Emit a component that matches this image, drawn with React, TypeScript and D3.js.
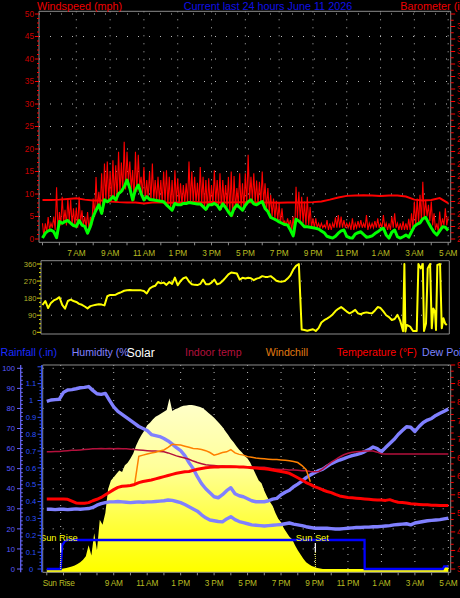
import React from "react";
import * as d3 from "d3";

const BASE_MS = new Date(2026, 5, 10, 0, 0, 0).getTime();
const at = (h: number): Date => new Date(BASE_MS + h * 3600000);
const fmtHour = d3.timeFormat("%-I %p");

const chartTitle = "Current last 24 hours June 11 2026";

// ---------- Top panel: wind (10-minute samples from 5:00 AM) ----------
const WIND_START_H = 5;
const WIND_STEP_H = 1 / 6;
const windAvg = [
  0.2, 1.3, 1.8, 2.0, 1.6, 0.3, 3.9, 3.5, 3.9, 4.1, 3.5, 3.0,
  2.8, 4.1, 3.1, 2.8, 1.3, 2.8, 5.0, 6.4, 7.6, 5.7, 8.7, 8.3,
  8.7, 9.4, 8.7, 10.1, 10.6, 11.6, 13.1, 11.3, 8.7, 10.9, 12.0, 10.1,
  8.7, 9.4, 8.8, 8.7, 8.6, 8.5, 8.4, 8.3, 7.6, 7.0, 6.4, 7.9,
  7.6, 7.6, 7.9, 7.9, 8.1, 8.0, 7.9, 7.8, 7.8, 7.2, 6.6, 7.6,
  7.6, 7.9, 7.5, 6.6, 7.8, 7.0, 6.0, 5.2, 6.8, 7.6, 7.0, 6.4,
  7.5, 8.3, 8.7, 7.8, 7.6, 8.0, 8.3, 6.8, 6.1, 4.8, 4.5, 4.2,
  3.8, 3.5, 3.2, 3.1, 2.0, 0.7, 4.4, 4.0, 3.4, 2.7, 2.7, 2.6,
  2.5, 2.4, 2.2, 1.8, 1.4, 0.6, 0.4, 0.2, 0.6, 1.3, 1.8, 2.0,
  0.6, 0.3, 0.2, 1.1, 1.4, 1.6, 1.0, 0.4, 0.5, 0.7, 1.2, 1.6,
  2.1, 2.4, 0.9, 0.2, 1.5, 2.0, 0.5, 0.2, 0.5, 0.9, 0.4, 1.6,
  2.8, 3.3, 3.6, 4.5, 4.8, 3.6, 2.5, 1.5, 0.9, 1.8, 2.7, 2.6, 1.9,
];
const windHigh = [
  3.5, 3.5, 4.9, 3.5, 5.0, 11.5, 6.0, 9.4, 6.5, 9.0, 8.7, 6.8,
  7.0, 9.4, 6.4, 5.0, 6.0, 4.9, 9.0, 13.8, 10.5, 14.6, 16.8, 17.2,
  15.0, 17.5, 16.4, 19.4, 17.0, 21.6, 19.4, 17.2, 15.3, 19.4, 18.7, 13.8,
  16.0, 13.1, 15.0, 16.8, 13.1, 13.8, 13.1, 15.0, 15.3, 13.8, 13.1, 15.3,
  13.5, 12.4, 12.0, 12.4, 17.2, 15.0, 13.8, 12.5, 16.0, 13.8, 13.1, 13.5,
  12.0, 15.3, 13.1, 14.6, 13.1, 12.0, 13.8, 15.0, 14.0, 11.3, 14.6, 12.4,
  14.6, 18.7, 13.8, 14.6, 13.0, 12.7, 15.0, 12.4, 11.3, 9.8, 9.0, 8.5,
  7.9, 6.8, 4.0, 4.6, 4.2, 5.0, 11.6, 10.5, 9.4, 8.3, 9.4, 7.1,
  4.6, 4.6, 3.5, 3.5, 3.1, 4.2, 3.5, 3.5, 4.8, 5.3, 5.0, 4.2,
  3.5, 3.5, 4.6, 3.5, 4.0, 4.2, 3.5, 5.3, 3.5, 3.5, 4.0, 4.6,
  3.5, 5.3, 3.5, 3.5, 5.0, 5.7, 3.5, 3.5, 3.9, 3.5, 4.5, 5.7,
  8.3, 9.0, 9.8, 12.7, 8.7, 7.6, 8.3, 5.7, 3.5, 6.1, 4.6, 6.8, 5.0,
];
const windLow = [
  0.5, 1.5, 2.0, 2.5, 2.0, 1.0, 3.0, 3.5, 3.0, 4.0, 3.0, 3.0,
  2.5, 3.5, 3.0, 2.5, 2.0, 3.0, 5.0, 6.5, 7.0, 6.0, 8.5, 8.0,
  8.5, 9.0, 8.5, 10.0, 10.5, 11.0, 12.5, 11.0, 8.5, 10.5, 11.5, 10.0,
  8.5, 9.0, 8.5, 8.5, 8.5, 8.5, 8.0, 8.0, 7.5, 7.0, 6.5, 8.0,
  7.5, 7.5, 8.0, 8.0, 8.0, 8.0, 8.0, 7.5, 8.0, 7.0, 6.5, 7.5,
  7.5, 8.0, 7.5, 6.5, 7.5, 7.0, 6.0, 5.0, 6.5, 7.5, 7.0, 6.5,
  7.5, 8.5, 8.5, 8.0, 7.5, 8.0, 8.0, 6.5, 6.0, 5.0, 4.5, 4.0,
  3.5, 3.5, 3.0, 3.0, 2.0, 1.0, 4.5, 4.0, 3.5, 3.0, 3.0, 2.5,
  2.5, 2.5, 2.5, 2.5, 2.5, 2.0, 2.0, 2.5, 2.5, 2.5, 2.5, 2.5,
  2.5, 2.0, 2.0, 2.5, 2.5, 2.5, 2.5, 2.0, 2.5, 2.5, 2.5, 2.5,
  2.5, 2.5, 2.0, 2.0, 2.5, 2.5, 2.0, 2.0, 2.0, 2.0, 2.0, 2.5,
  3.0, 3.5, 4.0, 4.5, 5.0, 4.0, 3.0, 2.0, 1.5, 2.5, 3.0, 3.0, 2.5,
];

// Barometer (inHg), 30-minute samples from 5:00 AM
const BARO_START_H = 5;
const BARO_STEP_H = 0.5;
const barometer = [
  29.725, 29.725, 29.726, 29.728, 29.730, 29.726, 29.723, 29.723, 29.720, 29.718,
  29.717, 29.717, 29.714, 29.717, 29.717, 29.716, 29.717, 29.717, 29.718, 29.717,
  29.718, 29.717, 29.717, 29.718, 29.718, 29.717, 29.717, 29.717, 29.716, 29.717,
  29.717, 29.717, 29.718, 29.720, 29.726, 29.733, 29.738, 29.739, 29.740, 29.739,
  29.738, 29.739, 29.739, 29.736, 29.726, 29.723, 29.725, 29.731, 29.715,
];
const baroTickValues = d3.range(0, 37).map((k) => 29.6 + k * 0.02);

// ---------- Middle panel: wind direction ----------
const DIR_START_H = 5;
const DIR_STEP_H = 1 / 6;
const windDir = [
  144, 165, 128, 155, 168, 175, 185, 145, 125, 165, 172, 165,
  160, 150, 145, 136, 126, 138, 142, 145, 148, 146, 142, 190,
  197, 196, 198, 206, 212, 219, 222, 223, 222, 222, 222, 221,
  218, 205, 230, 240, 245, 265, 258, 262, 250, 265, 255, 288,
  248, 270, 285, 290, 268, 253, 250, 249, 255, 278, 253, 253,
  262, 278, 253, 258, 272, 288, 305, 315, 313, 310, 278, 287,
  284, 287, 285, 275, 283, 287, 296, 292, 292, 296, 285, 272,
  268, 267, 270, 283, 300, 330, 350, 360, 15, 12, 8, 12,
  16, 7, 22, 52, 64, 72, 82, 94, 112, 124, 133, 122,
  109, 100, 108, 118, 100, 95, 102, 105, 102, 100, 115, 133,
  128, 110, 90, 80, 65, 70, 92, 60, 5,
];
const windDirLateHours = [
  26.41, 26.47, 26.55, 26.75, 26.92, 27.14, 27.24, 27.38, 27.5, 27.57, 27.69, 27.79,
  27.93, 28.03, 28.12, 28.22, 28.28, 28.36, 28.52, 28.62, 28.72, 28.82, 28.92,
];
const windDirLate = [
  360, 4, 39, 30, 7, 7, 360, 337, 360, 7, 47, 337,
  360, 21, 126, 109, 12, 355, 360, 21, 74, 47, 39,
];

// ---------- Bottom panel (15-minute samples from 5:00 AM) ----------
const BOT_START_H = 5;
const BOT_STEP_H = 0.25;
const humidity = [
  83.5, 84.2, 84.4, 84.6, 88.0, 89.2, 89.4, 89.8, 90.3, 90.5, 90.9, 89.0,
  87.3, 87.0, 87.5, 84.0, 80.8, 78.5, 77.0, 75.5, 74.0, 72.5, 71.0, 70.0,
  69.0, 67.0, 66.5, 66.0, 65.0, 63.8, 62.2, 60.5, 59.0, 56.5, 53.0, 50.0,
  46.0, 42.5, 40.0, 38.0, 36.0, 35.5, 37.0, 39.0, 40.5, 37.5, 36.5, 36.0,
  35.0, 34.0, 33.5, 33.5, 33.5, 34.0, 34.8, 35.2, 37.0, 38.2, 39.2, 41.0,
  42.3, 43.8, 45.5, 46.8, 48.0, 49.0, 49.8, 51.2, 52.5, 53.5, 54.3, 55.0,
  55.8, 56.5, 57.0, 57.6, 58.5, 59.5, 60.8, 60.0, 58.4, 60.5, 62.5, 64.5,
  67.0, 69.0, 70.9, 70.6, 68.5, 71.0, 73.0, 74.2, 75.0, 76.5, 77.6, 78.6,
  79.7,
];
const dewPoint = [
  51.1, 51.1, 51.0, 51.1, 51.1, 51.0, 51.1, 51.2, 51.1, 51.2, 51.3, 51.6,
  52.2, 52.6, 52.9, 53.1, 53.1, 53.2, 53.1, 53.0, 52.9, 53.0, 53.1, 53.0,
  53.1, 53.1, 53.2, 53.3, 53.4, 53.6, 53.5, 53.2, 52.9, 52.4, 51.8, 51.2,
  50.6, 49.6, 48.8, 48.2, 48.0, 47.8, 47.7, 48.5, 49.1, 48.3, 47.8, 47.5,
  47.2, 46.9, 46.8, 46.7, 46.6, 46.7, 46.8, 46.9, 47.0, 47.2, 47.4, 47.1,
  46.9, 46.7, 46.4, 46.2, 46.0, 46.0, 46.0, 46.0, 45.9, 45.8, 45.8, 45.9,
  46.0, 46.1, 46.2, 46.2, 46.3, 46.3, 46.4, 46.4, 46.5, 46.6, 46.7, 46.9,
  47.0, 47.1, 47.2, 46.9, 47.4, 47.6, 47.8, 48.0, 48.1, 48.2, 48.3, 48.5,
  48.7,
];
const temperature = [
  53.9, 53.9, 53.9, 53.9, 53.9, 53.8, 53.3, 52.8, 52.7, 52.7, 52.9, 53.4,
  53.8, 54.3, 55.0, 55.7, 56.4, 57.0, 57.3, 57.4, 57.5, 57.8, 58.3, 58.6,
  58.8, 59.0, 59.3, 59.6, 59.9, 60.2, 60.5, 60.8, 61.0, 61.2, 61.3, 61.6,
  61.9, 62.1, 62.3, 62.4, 62.5, 62.5, 62.6, 62.6, 62.6, 62.6, 62.5, 62.5,
  62.4, 62.3, 62.2, 62.1, 62.0, 61.9, 61.7, 61.5, 61.3, 61.1, 60.8, 60.2,
  59.6, 59.0, 58.3, 57.8, 57.2, 56.8, 56.3, 55.9, 55.6, 55.1, 54.7, 54.5,
  54.3, 54.2, 54.1, 54.0, 53.9, 53.8, 53.7, 53.6, 53.6, 53.5, 53.7, 53.3,
  53.0, 52.9, 52.8, 52.6, 52.5, 52.4, 52.3, 52.3, 52.2, 52.2, 52.1, 52.1,
  52.1,
];
const indoorTemp = [
  66.6, 66.6, 66.7, 66.7, 66.8, 66.9, 67.0, 67.0, 67.1, 67.2, 67.3, 67.4,
  67.4, 67.5, 67.4, 67.5, 67.4, 67.5, 67.4, 67.4, 67.3, 67.2, 67.1, 67.0,
  66.9, 66.8, 66.8, 66.7, 66.6, 66.3, 65.9, 65.5, 65.2, 64.9, 64.6, 64.1,
  63.7, 63.4, 63.1, 63.0, 62.9, 62.8, 62.8, 62.7, 62.7, 62.6, 62.6, 62.6,
  62.5, 62.5, 62.4, 62.4, 62.4, 62.2, 62.0, 61.9, 61.8, 61.8, 61.7, 61.7,
  61.6, 61.5, 61.5, 61.3, 61.2, 61.3, 62.0, 62.9, 63.8, 64.5, 65.2, 65.8,
  66.2, 66.5, 66.6, 66.7, 66.8, 66.8, 66.8, 66.5, 66.1, 66.0, 66.0, 66.0,
  66.0, 66.0, 66.0, 66.0, 66.0, 66.0, 66.0, 66.0, 66.0, 66.0, 66.0, 66.0,
  66.0,
];
const WINDCHILL_START_H = 10.25;
const windchill = [
  57.8, 65.4, 65.7, 66.0, 66.3, 66.5, 66.8, 67.1, 67.8, 68.6,
  68.5, 68.4, 68.1, 67.8, 67.5, 67.4, 67.2, 66.9, 66.4, 65.7,
  66.0, 66.4, 66.6, 67.2, 66.3, 65.9, 65.7, 65.3, 65.1, 64.9,
  64.8, 64.7, 64.6, 64.5, 64.5, 64.4, 64.3, 64.2, 64.0, 63.7,
  62.9, 61.8, 58.5,
];
// Solar radiation (W/m2), 10-minute samples from 5:00 AM
const SOLAR_START_H = 5;
const SOLAR_STEP_H = 1 / 6;
const solar = [
  0, 0, 0, 0, 0, 0, 3, 6, 10, 15, 20, 30, 40, 55,
  75, 140, 80, 210, 110, 290, 260, 330, 470, 520, 540, 560, 580, 570,
  610, 625, 650, 680, 725, 760, 790, 815, 845, 860, 880, 895, 905, 915, 925, 935,
  1005, 930, 940, 945, 955, 960, 962, 965, 965, 962, 958,
  953, 945, 932, 918, 905, 890, 872, 855, 835, 812, 790, 765, 745, 722, 702, 685,
  665, 650, 625, 590, 555, 520, 505, 460, 425, 395, 370, 330, 295, 275, 240, 215,
  190, 175, 140, 110, 85, 60, 40, 28, 18, 12, 6, 3,
  0, 0, 0, 0, 0, 0, 0, 0, 0, 0, 0, 0, 0, 0, 0, 0, 0, 0, 0, 0, 0, 0,
  0, 0, 0, 0, 0, 0, 0, 0, 0, 0, 0, 0, 0, 0, 0, 0, 0, 0, 0, 0, 0, 0,
  15, 25,
];
const rainHours = [5, 5.83, 5.92, 6.08, 6.25, 23.99, 24.0, 28.67, 28.75, 29.0];
const rainfall = [0, 0, 0.14, 0.165, 0.172, 0.172, 0, 0, 0.015, 0.015];
const SUNRISE_H = 5.83;
const SUNSET_H = 21.05;

const topTickHours = [7, 9, 11, 13, 15, 17, 19, 21, 23, 25, 27, 29];
const botTickHours = [9, 11, 13, 15, 17, 19, 21, 23, 25, 27, 29];

type Pt = [Date, number];
const grid = (start: number, step: number, arr: number[]): Pt[] =>
  arr.map((v, i) => [at(start + i * step), v] as Pt);

const FONT = '"Liberation Sans", Arial, Helvetica, sans-serif';
const FRAME = "#8c8c8c";
const DOT = "#b8b8b8";

export default function App() {
  const xTop = d3.scaleTime().domain([at(4.793), at(29.15)]).range([39, 450.7]);
  const xBot = d3.scaleTime().domain([at(4.756), at(29.14)]).range([42.7, 450.7]);
  const yWind = d3.scaleLinear().domain([0, 50]).range([239, 14]);
  const yBaro = d3.scaleLinear().domain([29.6, 30.32]).range([239, 14]);
  const yDir = d3.scaleLinear().domain([0, 360]).range([332.3, 264]);
  const yHum = d3.scaleLinear().domain([0, 100]).range([569, 368.3]);
  const yRain = d3.scaleLinear().domain([0, 1.2]).range([569, 366.8]);
  const yTemp = d3.scaleLinear().domain([35, 90]).range([569, 365]);
  const ySolar = d3.scaleLinear().domain([0, 1200]).range([569, 365]);

  const T = { l: 39, r: 450.7, t: 11.3, b: 242.3 };
  const M = { l: 41, r: 449.3, t: 260.7, b: 334 };
  const B = { l: 42.7, r: 450.7, t: 365, b: 572.3 };

  const windZig: Pt[] = [];
  windHigh.forEach((v, i) => {
    const h = WIND_START_H + i * WIND_STEP_H;
    windZig.push([at(h), v]);
    if (i < windHigh.length - 1) windZig.push([at(h + WIND_STEP_H / 2), windLow[i]]);
  });
  const lineWind = d3.line<Pt>().x((d) => xTop(d[0])).y((d) => yWind(d[1]));
  const lineBaro = d3.line<Pt>().x((d) => xTop(d[0])).y((d) => yBaro(d[1]));
  const lineDir = d3.line<Pt>().x((d) => xTop(d[0])).y((d) => yDir(d[1]));

  const dirPts: Pt[] = grid(DIR_START_H, DIR_STEP_H, windDir).concat(
    windDirLateHours.map((h, i) => [at(h), windDirLate[i]] as Pt)
  );

  const lineHum = d3.line<Pt>().x((d) => xBot(d[0])).y((d) => yHum(d[1]));
  const lineTemp = d3.line<Pt>().x((d) => xBot(d[0])).y((d) => yTemp(d[1]));
  const lineRain = d3.line<Pt>().x((d) => xBot(d[0])).y((d) => yRain(d[1]));
  const areaSolar = d3
    .area<Pt>()
    .x((d) => xBot(d[0]))
    .y0(B.b)
    .y1((d) => ySolar(d[1]));
  const rainPts: Pt[] = rainHours.map((h, i) => [at(h), rainfall[i]] as Pt);

  const sunriseX = xBot(at(SUNRISE_H));
  const sunsetX = xBot(at(SUNSET_H));

  const axisLabel = { fontSize: 8.3, letterSpacing: -0.2 } as const;

  return (
    <div style={{ width: 460, height: 598, background: "#000" }}>
      <style>{`html,body{margin:0;padding:0;background:#000;overflow:hidden}`}</style>
      <svg width={460} height={598} style={{ display: "block" }} fontFamily={FONT}>
        <defs>
          <linearGradient id="solarFill" gradientUnits="userSpaceOnUse" x1="0" x2="0"
            y1={ySolar(1000)} y2={ySolar(0)}>
            <stop offset="0" stopColor="#ffffcc" />
            <stop offset="0.4" stopColor="#ffff9a" />
            <stop offset="0.75" stopColor="#ffff38" />
            <stop offset="1" stopColor="#ffff00" />
          </linearGradient>
        </defs>
        <rect x={0} y={0} width={460} height={598} fill="#000" />

        {/* ================= TOP PANEL ================= */}
        <g>
          {d3.range(5, 51, 5).map((v) => (
            <line key={"tgh" + v} x1={T.l} x2={T.r} y1={yWind(v)} y2={yWind(v)}
              stroke={DOT} strokeDasharray="1 10" strokeWidth={1} />
          ))}
          {topTickHours.map((h) => (
            <line key={"tgv" + h} x1={xTop(at(h))} x2={xTop(at(h))} y1={T.t} y2={T.b}
              stroke={DOT} strokeDasharray="1 7" strokeWidth={1} />
          ))}
          <path d={lineWind(windZig) || ""} fill="none" stroke="#ff0000" strokeWidth={1.1} />
          <path d={lineBaro(grid(BARO_START_H, BARO_STEP_H, barometer)) || ""} fill="none"
            stroke="#ff0000" strokeWidth={2} />
          <path d={lineWind(grid(WIND_START_H, WIND_STEP_H, windAvg)) || ""} fill="none"
            stroke="#00ff00" strokeWidth={3} strokeLinejoin="round" />
          <path d={`M${T.l},${T.b}V${T.t}H${T.r}V${T.b}H${T.l}`} fill="none" stroke={FRAME} strokeWidth={1} />
          {d3.range(0, 51, 1).map((v) => (
            <line key={"tlt" + v} x1={v % 5 === 0 ? 35 : 37} x2={T.l} y1={yWind(v)} y2={yWind(v)}
              stroke="#ff0000" strokeWidth={1} />
          ))}
          {d3.range(0, 51, 5).map((v) => (
            <text key={"tll" + v} x={34} y={yWind(v)} dy="0.35em" textAnchor="end"
              fill="#c80000" fontSize={8.3}>{v}</text>
          ))}
          {baroTickValues.map((v, k) => (
            <line key={"trt" + k} x1={T.r} x2={k % 2 === 0 ? T.r + 4.5 : T.r + 3} y1={yBaro(v)} y2={yBaro(v)}
              stroke="#ff0000" strokeWidth={1} />
          ))}
          {baroTickValues.filter((_, k) => k % 2 === 0 && k < 36).map((v, k) => (
            <text key={"trl" + k} x={457} y={yBaro(v)} dy="0.35em" fill="#e00000" fontSize={8.3}>
              {v.toFixed(2)}
            </text>
          ))}
          {d3.range(5, 30, 1).map((h) => (
            <line key={"txt" + h} x1={xTop(at(h))} x2={xTop(at(h))} y1={T.b} y2={T.b + 3}
              stroke={FRAME} strokeWidth={1} />
          ))}
          {topTickHours.map((h) => (
            <text key={"txl" + h} x={xTop(at(h))} y={256} textAnchor="middle" fill="#b8bc20" {...axisLabel}>
              {fmtHour(at(h))}
            </text>
          ))}
          <text x={37} y={10} fill="#ee0000" fontSize={10.8}>Windspeed (mph)</text>
          <text x={183.7} y={10} fill="#1010e6" fontSize={10.8}>{chartTitle}</text>
          <text x={400.3} y={10} fill="#ee0000" fontSize={10.8}>Barometer (in)</text>
        </g>

        {/* ================= MIDDLE PANEL ================= */}
        <g>
          {[90, 180, 270, 360].map((v) => (
            <line key={"mgh" + v} x1={M.l} x2={M.r} y1={yDir(v)} y2={yDir(v)}
              stroke={DOT} strokeDasharray="1 9" strokeWidth={1} />
          ))}
          <path d={lineDir(dirPts) || ""} fill="none" stroke="#ffff00" strokeWidth={2} strokeLinejoin="round" />
          <path d={`M${M.l},${M.b}V${M.t}H${M.r}V${M.b}H${M.l}`} fill="none" stroke={FRAME} strokeWidth={1} />
          {d3.range(0, 361, 22.5).map((v) => (
            <line key={"mlt" + v} x1={v % 90 === 0 ? 37 : 39} x2={M.l} y1={yDir(v)} y2={yDir(v)}
              stroke="#e6e600" strokeWidth={1} />
          ))}
          {[0, 90, 180, 270, 360].map((v) => (
            <text key={"mll" + v} x={36.5} y={yDir(v)} dy="0.35em" textAnchor="end"
              fill="#b4b428" fontSize={7.6}>{v}</text>
          ))}
        </g>

        {/* ================= BOTTOM PANEL ================= */}
        <g>
          {d3.range(10, 101, 10).map((v) => (
            <line key={"bgh" + v} x1={B.l} x2={B.r} y1={yHum(v)} y2={yHum(v)}
              stroke={DOT} strokeDasharray="1 9" strokeWidth={1} />
          ))}
          {[SUNRISE_H, ...botTickHours].map((h) => (
            <line key={"bgv" + h} x1={xBot(at(h))} x2={xBot(at(h))} y1={B.t} y2={B.b}
              stroke={DOT} strokeDasharray="1 6" strokeWidth={1} />
          ))}
          <path d={areaSolar(grid(SOLAR_START_H, SOLAR_STEP_H, solar)) || ""} fill="url(#solarFill)" stroke="none" />
          <path d={lineHum(grid(BOT_START_H, BOT_STEP_H, humidity)) || ""} fill="none"
            stroke="#8080ff" strokeWidth={3.4} strokeLinejoin="round" />
          <path d={lineTemp(grid(BOT_START_H, BOT_STEP_H, dewPoint)) || ""} fill="none"
            stroke="#8080ff" strokeWidth={3.4} strokeLinejoin="round" />
          <path d={lineTemp(grid(BOT_START_H, BOT_STEP_H, indoorTemp)) || ""} fill="none"
            stroke="#b4103c" strokeWidth={1.5} />
          <path d={lineTemp(grid(WINDCHILL_START_H, BOT_STEP_H, windchill)) || ""} fill="none"
            stroke="#ff8000" strokeWidth={1.5} />
          <path d={lineTemp(grid(BOT_START_H, BOT_STEP_H, temperature)) || ""} fill="none"
            stroke="#ff0000" strokeWidth={3} strokeLinejoin="round" />
          <path d={lineRain(rainPts) || ""} fill="none" stroke="#0000ff" strokeWidth={2.3} />
          {[sunriseX, sunsetX].map((x, i) => (
            <g key={"sun" + i}>
              <line x1={x} x2={x} y1={543} y2={552} stroke="#ffffff" strokeWidth={1.2} />
              <line x1={x} x2={x} y1={552} y2={569} stroke="#ffff60" strokeWidth={1} strokeDasharray="1 1" />
            </g>
          ))}
          <text x={sunriseX - 1.8} y={540.5} textAnchor="middle" fill="#ffff00" fontSize={9.3}>Sun Rise</text>
          <text x={sunsetX - 3} y={540.5} textAnchor="middle" fill="#ffff00" fontSize={9.3}>Sun Set</text>
          <path d={`M${B.l},${B.b}V${B.t}H${B.r}V${B.b}H${B.l}`} fill="none" stroke={FRAME} strokeWidth={1} />
          <line x1={20.7} x2={20.7} y1={B.t} y2={B.b} stroke="#6a6aff" strokeWidth={1.2} />
          {d3.range(0, 101, 2).map((v) => (
            <line key={"bht" + v} x1={v % 10 === 0 ? 17 : 20.7} x2={22.8} y1={yHum(v)} y2={yHum(v)}
              stroke="#6a6aff" strokeWidth={1} />
          ))}
          {d3.range(0, 101, 10).map((v) => (
            <text key={"bhl" + v} x={15} y={yHum(v)} dy="0.35em" textAnchor="end"
              fill="#5a5aff" fontSize={7.6}>{v}</text>
          ))}
          <line x1={41.7} x2={41.7} y1={B.t} y2={B.b} stroke="#3050ff" strokeWidth={1.2} />
          {d3.range(0, 61).map((k) => (
            <line key={"brt" + k} x1={k % 5 === 0 ? 37.5 : 39.5} x2={41.7}
              y1={yRain(k * 0.02)} y2={yRain(k * 0.02)} stroke="#3050ff" strokeWidth={1} />
          ))}
          {d3.range(0, 12).map((k) => (
            <text key={"brl" + k} x={31} y={yRain(k / 10)} dy="0.35em" textAnchor="middle"
              fill="#2a50ff" fontSize={7.6}>{String(+(k / 10).toFixed(1))}</text>
          ))}
          {d3.range(0, 34).map((k) => (
            <line key={"btt" + k} x1={B.r} x2={k % 3 === 0 ? B.r + 4.5 : B.r + 3}
              y1={yTemp(35 + (k * 5) / 3)} y2={yTemp(35 + (k * 5) / 3)} stroke="#ff0000" strokeWidth={1} />
          ))}
          {d3.range(35, 91, 5).map((v) => (
            <text key={"btl" + v} x={457} y={yTemp(v)} dy="0.35em" fill="#e00000" fontSize={8.3}>{v}</text>
          ))}
          {d3.range(5, 30, 1).map((h) => (
            <line key={"bxt" + h} x1={xBot(at(h))} x2={xBot(at(h))} y1={B.b} y2={B.b + 3}
              stroke={FRAME} strokeWidth={1} />
          ))}
          <text x={sunriseX - 2} y={586} textAnchor="middle" fill="#b8bc20" {...axisLabel}>Sun Rise</text>
          {botTickHours.map((h) => (
            <text key={"bxl" + h} x={xBot(at(h))} y={586} textAnchor="middle" fill="#b8bc20" {...axisLabel}>
              {fmtHour(at(h))}
            </text>
          ))}
          <text x={0.5} y={356} fill="#1c2cff" fontSize={10.6}>Rainfall (.in)</text>
          <text x={71.7} y={356} fill="#8080ff" fontSize={10.6}>Humidity (%</text>
          <text x={126.7} y={356.5} fill="#ffffff" fontSize={12}>Solar</text>
          <text x={185} y={356} fill="#b4103c" fontSize={10.6}>Indoor temp</text>
          <text x={265.7} y={356} fill="#e07a10" fontSize={10.6}>Windchill</text>
          <text x={336.7} y={356} fill="#ff0000" fontSize={10.6}>Temperature (°F)</text>
          <text x={422} y={356} fill="#7c84ff" fontSize={10.6}>Dew Point (°F)</text>
        </g>
      </svg>
    </div>
  );
}
